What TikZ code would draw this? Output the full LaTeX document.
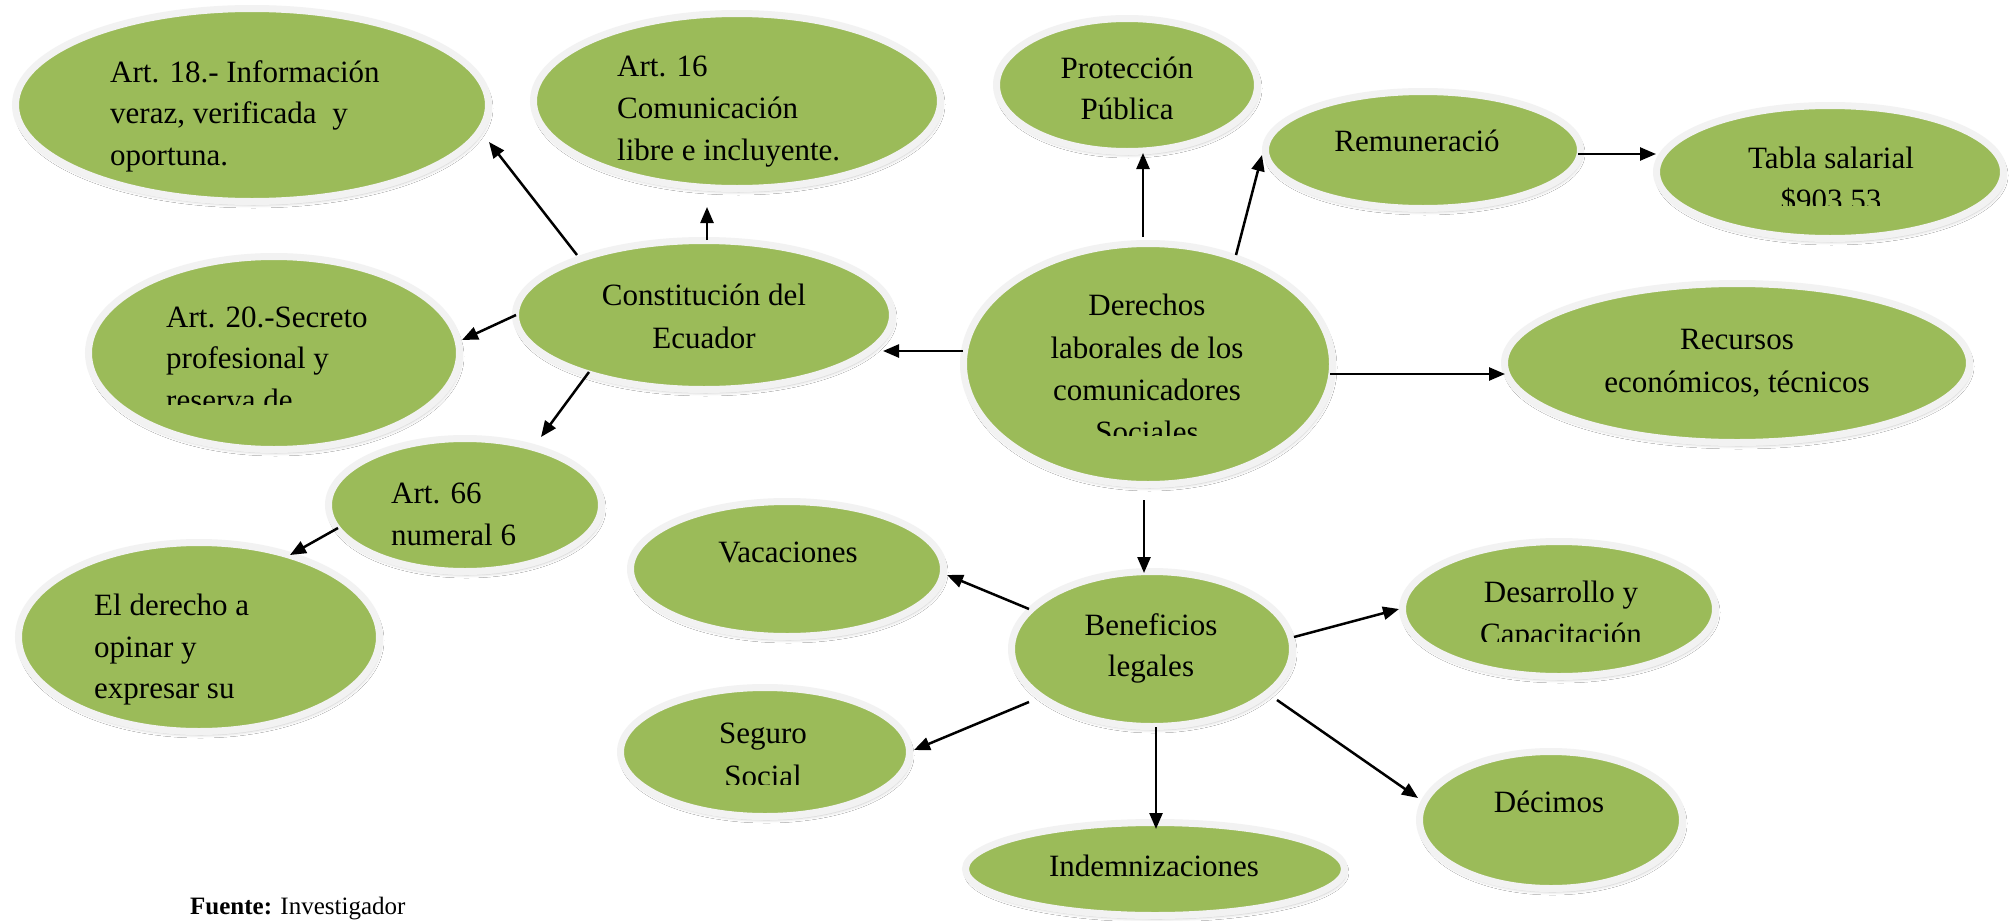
\documentclass[tikz,border=0pt]{standalone}
\usepackage{fontspec}
\setmainfont{Liberation Serif}
\usetikzlibrary{shapes.geometric,arrows.meta,calc,shadows.blur}
\definecolor{leaf}{HTML}{9BBB59}
\definecolor{rim}{HTML}{F2F2F2}
\tikzset{
  bub/.style={ellipse, draw=rim, line width=7pt, fill=leaf, inner sep=0pt,
    blur shadow={shadow xshift=1.5pt, shadow yshift=-3.5pt, shadow blur radius=3pt, shadow blur steps=6, shadow opacity=22}},
  txt/.style={font=\fontsize{31}{42}\selectfont, inner sep=0pt, text=black},
  arr/.style={line width=2.5pt, -{Triangle[length=16pt,width=13pt]}},
}
\begin{document}
\begin{tikzpicture}[x=1pt,y=-1pt]
\useasboundingbox (0,0) rectangle (2011,921);
\fill[white] (0,0) rectangle (2011,921);

% ellipses
\node[bub, minimum width=473pt, minimum height=193pt] (art18) at (252,105) {};
\node[bub, minimum width=407pt, minimum height=175pt] (art16) at (737,101) {};
\node[bub, minimum width=261pt, minimum height=133pt] (prot) at (1127,85) {};
\node[bub, minimum width=315pt, minimum height=117pt] (rem) at (1423,150) {};
\node[bub, minimum width=347pt, minimum height=133pt] (tabla) at (1830,172) {};
\node[bub, minimum width=371pt, minimum height=193pt] (art20) at (274,353) {};
\node[bub, minimum width=377pt, minimum height=149pt] (cons) at (704,315) {};
\node[bub, minimum width=369pt, minimum height=241pt] (der) at (1148,364) {};
\node[bub, minimum width=465pt, minimum height=159pt] (rec) at (1737,363) {};
\node[bub, minimum width=273pt, minimum height=133pt] (art66) at (465,505) {};
\node[bub, minimum width=313pt, minimum height=135pt] (vac) at (787,569) {};
\node[bub, minimum width=281pt, minimum height=155pt] (ben) at (1152,649) {};
\node[bub, minimum width=313pt, minimum height=135pt] (des) at (1559,609) {};
\node[bub, minimum width=361pt, minimum height=189pt] (eld) at (199,637) {};
\node[bub, minimum width=289pt, minimum height=129pt] (seg) at (765,752) {};
\node[bub, minimum width=263pt, minimum height=137pt] (dec) at (1551,820) {};
\node[bub, minimum width=379pt, minimum height=93pt] (ind) at (1155,869) {};

% texts
\node[txt, anchor=base west] (t18a) at (110,82) {Art. 18.- Información};
\node[txt, anchor=base west] (t18b) at (110,123) {veraz, verificada\ \ y};
\node[txt, anchor=base west] (t18c) at (110,165) {oportuna.};

\node[txt, anchor=base west] (t16a) at (617,76) {Art. 16};
\node[txt, anchor=base west] (t16b) at (617,118) {Comunicación};
\node[txt, anchor=base west] (t16c) at (617,160) {libre e incluyente.};

\node[txt, anchor=base] (tpa) at (1127,78) {Protección};
\node[txt, anchor=base] (tpb) at (1127,119) {Pública};

\node[txt, anchor=base] (trem) at (1417,151) {Remuneració};

\node[txt, anchor=base] (tta) at (1831,168) {Tabla salarial};
\begin{scope}
\clip (1650,150) rectangle (2010,205);
\node[txt, anchor=base] (ttb) at (1831,210) {\$903.53};
\end{scope}

\node[txt, anchor=base west] (t20a) at (166,327) {Art. 20.-Secreto};
\node[txt, anchor=base west] (t20b) at (166,368) {profesional y};
\begin{scope}
\clip (100,370) rectangle (460,404);
\node[txt, anchor=base west] (t20c) at (166,410) {reserva de};
\end{scope}

\node[txt, anchor=base] (tca) at (704,305) {Constitución del};
\node[txt, anchor=base] (tcb) at (704,348) {Ecuador};

\node[txt, anchor=base] (tda) at (1147,315) {Derechos};
\node[txt, anchor=base] (tdb) at (1147,358) {laborales de los};
\node[txt, anchor=base] (tdc) at (1147,400) {comunicadores};
\begin{scope}
\clip (1000,405) rectangle (1300,435);
\node[txt, anchor=base] (tdd) at (1147,442) {Sociales};
\end{scope}

\node[txt, anchor=base] (tra) at (1737,349) {Recursos};
\node[txt, anchor=base] (trb) at (1737,392) {económicos, técnicos};

\node[txt, anchor=base west] (t66a) at (391,503) {Art. 66};
\node[txt, anchor=base west] (t66b) at (391,545) {numeral 6};

\node[txt, anchor=base] (tvac) at (788,562) {Vacaciones};

\node[txt, anchor=base] (tba) at (1151,635) {Beneficios};
\node[txt, anchor=base] (tbb) at (1151,676) {legales};

\node[txt, anchor=base] (tdsa) at (1561,602) {Desarrollo y};
\begin{scope}
\clip (1420,605) rectangle (1700,641);
\node[txt, anchor=base] (tdsb) at (1561,644) {Capacitación};
\end{scope}

\node[txt, anchor=base west] (tela) at (94,615) {El derecho a};
\node[txt, anchor=base west] (telb) at (94,657) {opinar y};
\node[txt, anchor=base west] (telc) at (94,698) {expresar su};

\node[txt, anchor=base] (tsa) at (763,743) {Seguro};
\begin{scope}
\clip (640,750) rectangle (900,784);
\node[txt, anchor=base] (tsb) at (763,786) {Social};
\end{scope}

\node[txt, anchor=base] (tdec) at (1549,812) {Décimos};

\node[txt, anchor=base] (tind) at (1154,876) {Indemnizaciones};

\node[anchor=base west, inner sep=0pt, font=\fontsize{25}{30}\selectfont] (src) at (190,914) {\textbf{Fuente:} Investigador};

% connectors
\draw[arr] ($(der)+(-185,-13)$) -- ($(cons)+(179,36)$);
\draw[arr] ($(cons)+(-127,-60)$) -- ($(art18)+(237,37)$);
\draw[arr] ($(cons)+(3,-75)$) -- ($(art16)+(-30,106)$);
\draw[arr] ($(cons)+(-188,0)$) -- ($(art20)+(188,-13)$);
\draw[arr] ($(cons)+(-115,57)$) -- ($(art66)+(76,-68)$);
\draw[arr] ($(art66)+(-127,23)$) -- ($(eld)+(91,-82)$);
\draw[arr] ($(der)+(-5,-127)$) -- ($(prot)+(16,68)$);
\draw[arr] ($(der)+(88,-109)$) -- ($(rem)+(-161,5)$);
\draw[arr] ($(rem)+(155,4)$) -- ($(tabla)+(-174,-18)$);
\draw[arr] ($(der)+(182,10)$) -- ($(rec)+(-232,11)$);
\draw[arr] ($(der)+(-4,136)$) -- ($(ben)+(-8,-76)$);
\draw[arr] ($(ben)+(-123,-40)$) -- ($(vac)+(160,6)$);
\draw[arr] ($(ben)+(-123,53)$) -- ($(seg)+(149,-2)$);
\draw[arr] ($(ben)+(4,78)$) -- ($(ind)+(1,-40)$);
\draw[arr] ($(ben)+(125,51)$) -- ($(dec)+(-133,-22)$);
\draw[arr] ($(ben)+(142,-12)$) -- ($(des)+(-160,0)$);
\end{tikzpicture}
\end{document}
